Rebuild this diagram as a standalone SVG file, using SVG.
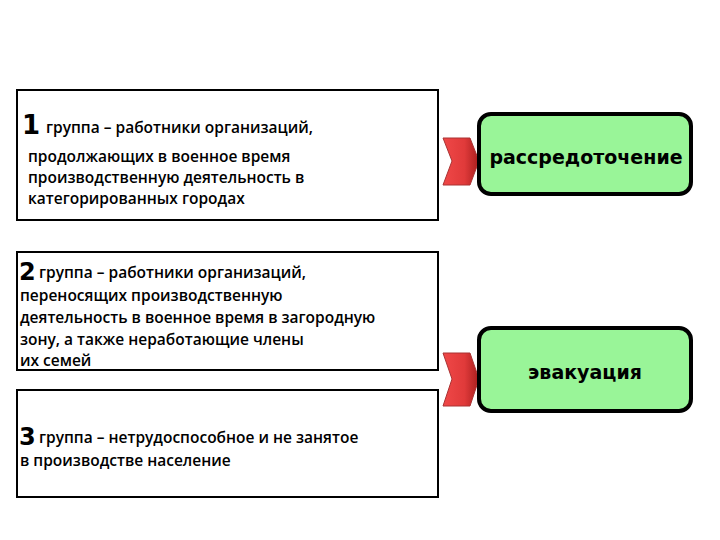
<svg xmlns="http://www.w3.org/2000/svg" width="720" height="540" viewBox="0 0 720 540">
<style>
.box{fill:#fff;stroke:#000;stroke-width:2}
.t{font-family:"Open Sans","Liberation Sans",sans-serif;font-size:15.5px;font-weight:600;fill:#000}
.n{font-family:"DejaVu Sans","Liberation Sans",sans-serif;font-weight:bold;fill:#000}
.g{fill:#99f598;stroke:#000;stroke-width:4}
.gt{font-family:"DejaVu Sans","Liberation Sans",sans-serif;font-weight:bold;font-size:19px;fill:#000;text-anchor:middle}
.chev{fill:url(#red);stroke:#a33;stroke-width:1}
</style>
<defs>
<linearGradient id="red" x1="0" y1="0" x2="1" y2="0">
<stop offset="0" stop-color="#f04848"/>
<stop offset="0.6" stop-color="#e03a3a"/>
<stop offset="1" stop-color="#a81e1e"/>
</linearGradient>
</defs>
<rect width="720" height="540" fill="#fff"/>
<g id="group1">
<rect class="box" x="17" y="90" width="421" height="130"/>
<text class="n" x="22" y="134" font-size="26">1</text>
<text class="t" x="46" y="133">группа – работники организаций,</text>
<text class="t" x="28" y="162">продолжающих в военное время</text>
<text class="t" x="28" y="183">производственную  деятельность в</text>
<text class="t" x="28" y="204">категорированных  городах</text>
</g>
<g id="group2">
<rect class="box" x="17" y="252" width="421" height="118"/>
<text class="n" x="19" y="280" font-size="24">2</text>
<text class="t" x="39" y="278">группа – работники организаций,</text>
<text class="t" x="20" y="301">переносящих производственную</text>
<text class="t" x="20" y="323">деятельность в военное время в загородную</text>
<text class="t" x="20" y="345">зону, а также неработающие члены</text>
<text class="t" x="20" y="366">их семей</text>
</g>
<g id="group3">
<rect class="box" x="17" y="390" width="421" height="107"/>
<text class="n" x="19" y="445" font-size="24">3</text>
<text class="t" x="39" y="443">группа – нетрудоспособное и не занятое</text>
<text class="t" x="20" y="466">в производстве население</text>
</g>
<g id="connectors">
<polygon class="chev" points="443,138 470,138 479,161 470,185 443,185 452,161"/>
<polygon class="chev" points="443,353 470,353 479,379 470,406 443,406 452,379"/>
</g>
<g id="dispersal">
<rect class="g" x="479" y="114" width="212" height="80" rx="12"/>
<text class="gt" x="586" y="164">рассредоточение</text>
</g>
<g id="evacuation">
<rect class="g" x="479" y="328" width="212" height="83" rx="12"/>
<text class="gt" x="585" y="379">эвакуация</text>
</g>
</svg>
